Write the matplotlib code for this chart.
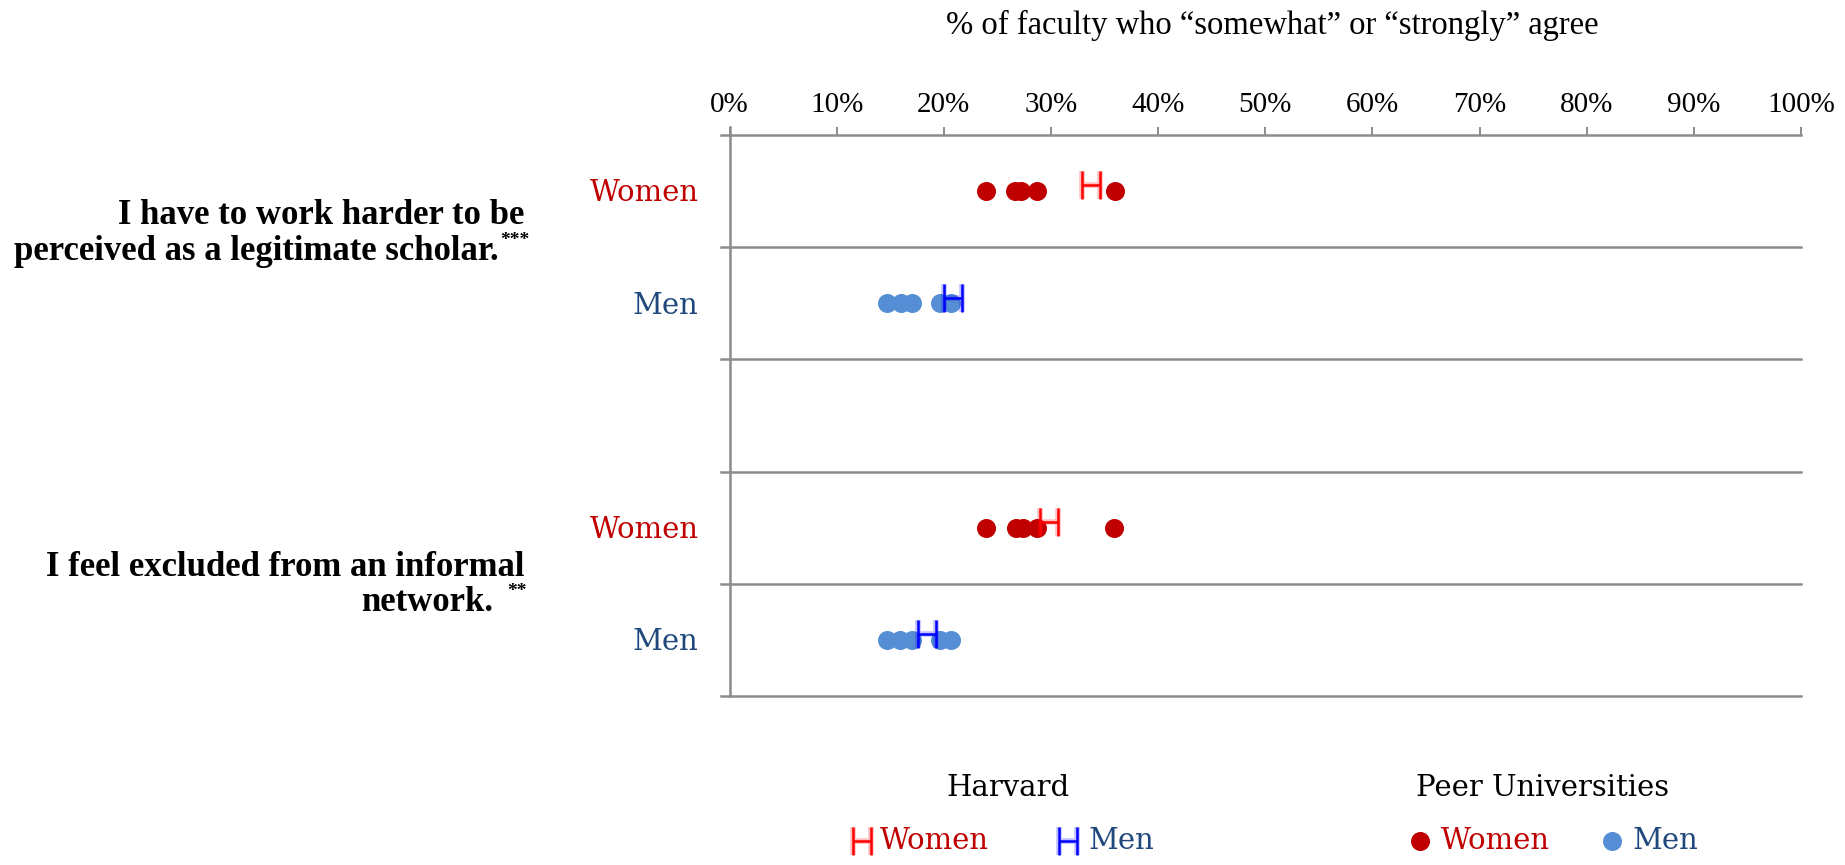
import numpy as np
import matplotlib.pyplot as plt
from matplotlib.path import Path

# peer university values (% agree), one dot per peer
peer_women_q1 = [23.9, 26.6, 27.2, 28.7, 36.0]
peer_men_q1 = [14.7, 16.0, 17.0, 19.6, 20.7]
peer_women_q2 = [23.9, 26.7, 27.4, 28.7, 35.9]
peer_men_q2 = [14.7, 15.9, 17.0, 19.6, 20.7]

# harvard values
harvard_women = [33.7, 29.8]
harvard_men = [20.9, 18.4]

row_labels = ['Women', 'Men', '', 'Women', 'Men']
tick_values = np.arange(0, 101, 10)
tick_labels = [f'{v}%' for v in tick_values]

RED = '#C00000'
BLUE = '#558ED5'
NAVY = '#1F497D'
H_RED = '#FF0000'
H_BLUE = '#0000FF'
GRID = '#8C8C8C'

# "H" shaped marker for Harvard
H_MARK = Path([(-0.63, -1), (-0.63, 1), (0.63, -1), (0.63, 1), (-0.63, 0), (0.63, 0)],
              [Path.MOVETO, Path.LINETO, Path.MOVETO, Path.LINETO, Path.MOVETO, Path.LINETO])

W, H = 1845, 865
fig = plt.figure(figsize=(W / 100, H / 100), dpi=100)

# overlay in pixel coords for outside text / legend
ov = fig.add_axes([0, 0, 1, 1])
ov.set_xlim(0, W)
ov.set_ylim(H, 0)
ov.axis('off')

ax = fig.add_axes([729.5 / W, 1 - 696 / H, (1801 - 729.5) / W, (696 - 135) / H])
ax.set_xlim(0, 100)
ax.set_ylim(5, 0)
ax.patch.set_alpha(0)
for s in ax.spines.values():
    s.set_visible(False)

for y in range(6):
    ax.plot([-0.75, 100], [y, y], color=GRID, lw=1.8, clip_on=False, zorder=1)
ax.plot([0, 0], [-0.07, 5], color=GRID, lw=1.8, clip_on=False, zorder=1)

ax.xaxis.tick_top()
ax.set_xticks(tick_values)
ax.set_xticklabels(tick_labels, fontfamily='Liberation Serif', fontsize=21)
ax.tick_params(axis='x', direction='out', length=6, width=1.4, color=GRID, pad=6)
ax.set_yticks([])

# peer dots
rows = [(0.5, peer_women_q1, RED), (1.5, peer_men_q1, BLUE),
        (3.5, peer_women_q2, RED), (4.5, peer_men_q2, BLUE)]
for y, vals, c in rows:
    ax.plot(vals, [y] * len(vals), 'o', color=c, markersize=13.7, mec='none', zorder=3)

# harvard H markers (soft glow underneath)
for ys, vals, c in [([0.45, 3.45], harvard_women, H_RED), ([1.45, 4.45], harvard_men, H_BLUE)]:
    ax.plot(vals, ys, ls='none', marker=H_MARK, markersize=19.5, mec=c, mfc='none',
            mew=4, alpha=0.25, zorder=4)
    ax.plot(vals, ys, ls='none', marker=H_MARK, markersize=19.5, mec=c, mfc='none',
            mew=1.8, zorder=5)

for i, lab in enumerate(row_labels):
    if lab:
        ax.text(-2.9, i + 0.52, lab, ha='right', va='center', fontfamily='DejaVu Serif',
                fontsize=21, color=RED if lab == 'Women' else NAVY)

# title
ov.text(1272, 25, '% of faculty who \u201csomewhat\u201d or \u201cstrongly\u201d agree',
        ha='center', va='center', fontfamily='Liberation Serif', fontsize=23.5)

# question labels
qfont = dict(fontfamily='Liberation Serif', fontweight='bold', fontsize=25, va='baseline')
sfont = dict(fontfamily='Liberation Serif', fontweight='bold', fontsize=14, va='baseline', ha='left')
ov.text(524, 224, 'I have to work harder to be', ha='right', **qfont)
ov.text(499, 260, 'perceived as a legitimate scholar.', ha='right', **qfont)
ov.text(500, 245, '***', **sfont)
ov.text(524, 576, 'I feel excluded from an informal', ha='right', **qfont)
ov.text(493, 611, 'network.', ha='right', **qfont)
ov.text(507, 596, '**', **sfont)

# legend
lfont = dict(fontfamily='DejaVu Serif', fontsize=21, va='center')
ov.text(1008, 788, 'Harvard', ha='center', color='black', **lfont)
ov.text(1543, 788, 'Peer Universities', ha='center', color='black', **lfont)
for x, c in [(862, H_RED), (1068, H_BLUE)]:
    ov.plot([x], [841], ls='none', marker=H_MARK, markersize=19.5, mec=c, mfc='none', mew=4, alpha=0.25)
    ov.plot([x], [841], ls='none', marker=H_MARK, markersize=19.5, mec=c, mfc='none', mew=1.8)
ov.text(880, 841, 'Women', ha='left', color=RED, **lfont)
ov.text(1088, 841, 'Men', ha='left', color=NAVY, **lfont)
ov.plot([1420], [841], 'o', color=RED, markersize=13.7, mec='none')
ov.plot([1612], [841], 'o', color=BLUE, markersize=13.7, mec='none')
ov.text(1441, 841, 'Women', ha='left', color=RED, **lfont)
ov.text(1632, 841, 'Men', ha='left', color=NAVY, **lfont)

fig.savefig('out.png', dpi=100, facecolor='white')
